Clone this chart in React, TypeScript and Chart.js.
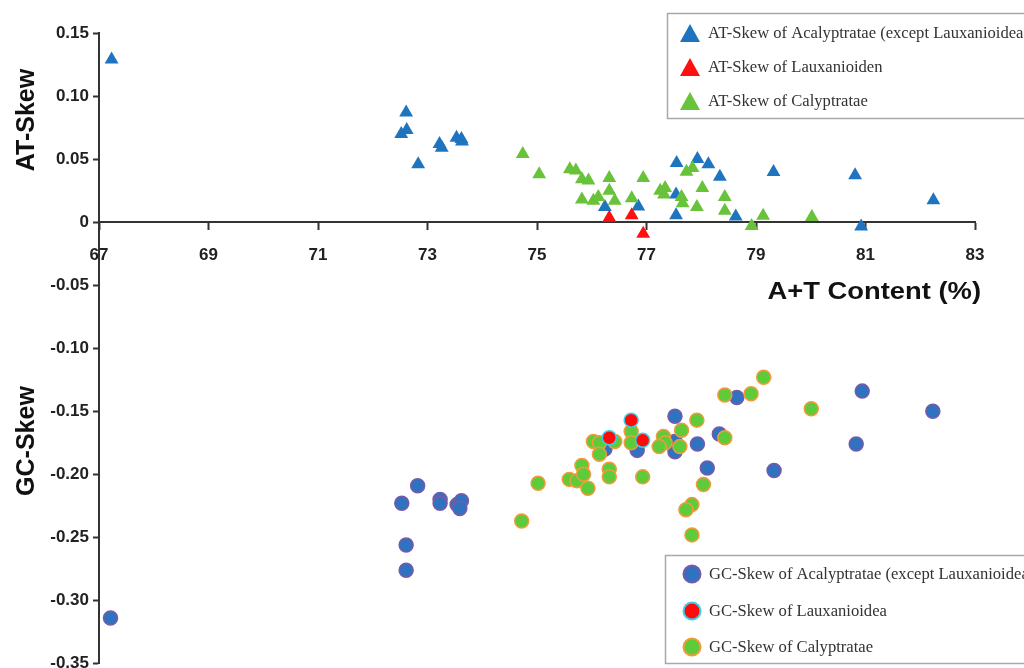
import React, { useEffect, useRef } from 'react';
import { Chart, registerables } from 'chart.js';

Chart.register(...registerables);

// ---------- data ----------
const xTickValues = [67, 69, 71, 73, 75, 77, 79, 81, 83];
const yTickValues = [0.15, 0.1, 0.05, 0, -0.05, -0.1, -0.15, -0.2, -0.25, -0.3, -0.35];

const atAcalyptratae: [number, number][] = [
  [67.23, 0.129], [72.61, 0.087], [72.62, 0.073], [72.52, 0.070], [72.83, 0.046],
  [73.22, 0.062], [73.26, 0.059], [73.53, 0.067], [73.62, 0.066], [73.63, 0.064],
  [76.24, 0.012], [76.85, 0.0125], [77.54, 0.022], [77.54, 0.0054], [77.55, 0.047],
  [77.93, 0.050], [78.13, 0.046], [78.34, 0.036], [78.63, 0.0045], [79.32, 0.0397],
  [80.81, 0.0371], [80.92, -0.0035], [82.24, 0.0173],
];
const atLauxanioidea: [number, number][] = [
  [76.32, 0.0035], [76.73, 0.0054], [76.94, -0.0092],
];
const atCalyptratae: [number, number][] = [
  [74.74, 0.054], [75.04, 0.038], [75.60, 0.042], [75.71, 0.041], [75.82, 0.034],
  [75.94, 0.033], [76.32, 0.035], [76.32, 0.025], [75.82, 0.018], [76.03, 0.017],
  [76.12, 0.020], [76.42, 0.017], [76.73, 0.019], [76.94, 0.035], [77.25, 0.025],
  [77.34, 0.027], [77.32, 0.022], [77.64, 0.020], [77.66, 0.015], [77.73, 0.040],
  [77.84, 0.043], [78.02, 0.027], [77.92, 0.012], [78.43, 0.020], [78.43, 0.009],
  [78.92, -0.003], [79.13, 0.005], [80.02, 0.004],
];

const gcAcalyptratae: [number, number][] = [
  [67.21, -0.314], [72.53, -0.223], [72.82, -0.209], [72.61, -0.256], [72.61, -0.276],
  [73.23, -0.220], [73.23, -0.223], [73.54, -0.224], [73.62, -0.221], [73.59, -0.227],
  [76.24, -0.180], [76.83, -0.181], [77.52, -0.154], [77.52, -0.174], [77.52, -0.182],
  [77.93, -0.176], [78.33, -0.168], [78.11, -0.195], [78.65, -0.139], [79.33, -0.197],
  [80.83, -0.176], [80.94, -0.134], [82.23, -0.150],
];
const gcLauxanioidea: [number, number][] = [
  [76.72, -0.157], [76.32, -0.171], [76.93, -0.173],
];
const gcCalyptratae: [number, number][] = [
  [74.72, -0.237], [75.02, -0.207], [75.59, -0.204], [75.73, -0.205], [75.82, -0.193],
  [75.85, -0.200], [75.93, -0.211], [76.03, -0.174], [76.14, -0.175], [76.14, -0.184],
  [76.42, -0.174], [76.32, -0.196], [76.32, -0.202], [76.72, -0.166], [76.72, -0.175],
  [76.93, -0.202], [77.31, -0.170], [77.34, -0.175], [77.23, -0.178], [77.64, -0.165],
  [77.61, -0.178], [77.92, -0.157], [78.04, -0.208], [77.83, -0.224], [77.72, -0.228],
  [77.83, -0.248], [78.43, -0.137], [78.43, -0.171], [78.91, -0.136], [79.14, -0.123],
  [80.01, -0.148],
];

const legendTopLabels = [
  'AT-Skew of Acalyptratae (except Lauxanioidea)',
  'AT-Skew of Lauxanioiden',
  'AT-Skew of Calyptratae',
];
const legendBottomLabels = [
  'GC-Skew of Acalyptratae (except Lauxanioidea)',
  'GC-Skew of Lauxanioidea',
  'GC-Skew of Calyptratae',
];
const yTitleTop = 'AT-Skew';
const yTitleBottom = 'GC-Skew';
const xTitle = 'A+T Content (%)';

// ---------- styles ----------
const triColors = ['#1f74c0', '#ff1010', '#68c23a'];
const circFill = ['#2f72bf', '#ff0a0a', '#5ecb3a'];
const circBorder = ['#7a5aa8', '#38d0e8', '#f39a3a'];

const toPts = (arr: [number, number][]) => arr.map(([x, y]) => ({ x, y }));

function drawTriangle(ctx: CanvasRenderingContext2D, cx: number, cy: number, w: number, h: number, color: string) {
  ctx.beginPath();
  ctx.moveTo(cx, cy - h / 2);
  ctx.lineTo(cx + w / 2, cy + h / 2);
  ctx.lineTo(cx - w / 2, cy + h / 2);
  ctx.closePath();
  ctx.fillStyle = color;
  ctx.fill();
}

const overlayPlugin = {
  id: 'overlay',
  afterDraw(chart: any) {
    const ctx: CanvasRenderingContext2D = chart.ctx;
    ctx.save();
    // y titles
    ctx.fillStyle = '#111';
    ctx.font = 'bold 25px "Liberation Sans", Arial, sans-serif';
    ctx.textAlign = 'center';
    ctx.textBaseline = 'middle';
    const rot = (t: string, x: number, y: number) => {
      ctx.save();
      ctx.translate(x, y);
      ctx.rotate(-Math.PI / 2);
      ctx.fillText(t, 0, 0);
      ctx.restore();
    };
    rot(yTitleTop, 27, 120);
    rot(yTitleBottom, 27, 441);

    // x title (stretched horizontally)
    ctx.save();
    ctx.font = 'bold 23px "Liberation Sans", Arial, sans-serif';
    ctx.textAlign = 'right';
    ctx.translate(981, 293);
    ctx.scale(1.19, 1);
    ctx.fillText(xTitle, 0, 0);
    ctx.restore();

    // legends
    const drawBox = (x: number, y: number, h: number) => {
      ctx.fillStyle = '#ffffff';
      ctx.fillRect(x, y, 1100 - x, h);
      ctx.strokeStyle = '#a8a8a8';
      ctx.lineWidth = 1.5;
      ctx.strokeRect(x + 0.5, y + 0.5, 1100 - x, h);
    };
    ctx.font = '16.6px "Liberation Serif", "Times New Roman", serif';
    ctx.textAlign = 'left';
    ctx.textBaseline = 'middle';

    drawBox(667, 13, 105);
    const topRows = [33, 67, 101];
    legendTopLabels.forEach((label, i) => {
      drawTriangle(ctx, 690, topRows[i], 20, 18, triColors[i]);
      ctx.fillStyle = '#333';
      ctx.fillText(label, 708, topRows[i] + 1);
    });

    drawBox(665, 555, 108);
    const botRows = [574, 611, 647];
    legendBottomLabels.forEach((label, i) => {
      ctx.beginPath();
      ctx.arc(692, botRows[i], 8.5, 0, Math.PI * 2);
      ctx.fillStyle = circFill[i];
      ctx.fill();
      ctx.lineWidth = 2;
      ctx.strokeStyle = circBorder[i];
      ctx.stroke();
      ctx.fillStyle = '#333';
      ctx.fillText(label, 709, botRows[i] + 1);
    });
    ctx.restore();
  },
};

export default function App() {
  const ref = useRef<HTMLCanvasElement | null>(null);

  useEffect(() => {
    document.body.style.margin = '0';
    const canvas = ref.current;
    if (!canvas) return;

    const tickFont = { family: '"Liberation Sans", Arial, sans-serif', size: 17, weight: 'bold' as const };

    const triDs = (label: string, data: [number, number][], i: number, order: number) => ({
      label,
      data: toPts(data),
      pointStyle: 'triangle' as const,
      pointRadius: 8,
      pointHoverRadius: 8,
      backgroundColor: triColors[i],
      borderColor: triColors[i],
      borderWidth: 0,
      order,
    });
    const circDs = (label: string, data: [number, number][], i: number, order: number) => ({
      label,
      data: toPts(data),
      pointStyle: 'circle' as const,
      pointRadius: 7,
      pointHoverRadius: 7,
      backgroundColor: circFill[i],
      borderColor: circBorder[i],
      borderWidth: 1.5,
      order,
    });

    const chart = new Chart(canvas, {
      type: 'scatter',
      data: {
        datasets: [
          triDs(legendTopLabels[0], atAcalyptratae, 0, 2),
          triDs(legendTopLabels[1], atLauxanioidea, 1, 0),
          triDs(legendTopLabels[2], atCalyptratae, 2, 1),
          circDs(legendBottomLabels[0], gcAcalyptratae, 0, 2),
          circDs(legendBottomLabels[1], gcLauxanioidea, 1, 0),
          circDs(legendBottomLabels[2], gcCalyptratae, 2, 1),
        ],
      },
      options: {
        responsive: false,
        animation: false,
        layout: { padding: { left: 0, top: 33, right: 49, bottom: 6 } },
        plugins: {
          legend: { display: false },
          tooltip: { enabled: false },
        },
        scales: {
          x: {
            type: 'linear',
            position: { y: 0 } as any,
            min: 67,
            max: 83,
            afterBuildTicks: (scale: any) => {
              scale.ticks = xTickValues.map((v) => ({ value: v }));
            },
            afterFit: (scale: any) => {
              scale.paddingTop = 0;
              scale.paddingBottom = 0;
            },
            ticks: {
              stepSize: 2,
              padding: 16,
              color: '#222',
              font: tickFont,
              maxRotation: 0,
              autoSkip: false,
              callback: (v: any) => String(v),
            },
            grid: {
              display: true,
              drawOnChartArea: false,
              drawTicks: true,
              tickLength: 7,
              tickWidth: 2,
              color: '#333',
            },
            border: { display: true, color: '#333', width: 2 },
          },
          y: {
            type: 'linear',
            position: 'left',
            min: -0.35,
            max: 0.15,
            afterFit: (scale: any) => {
              scale.width = 99;
              scale.paddingTop = 0;
              scale.paddingBottom = 0;
            },
            afterBuildTicks: (scale: any) => {
              scale.ticks = yTickValues.map((v) => ({ value: v }));
            },
            ticks: {
              stepSize: 0.05,
              padding: 4,
              color: '#222',
              font: tickFont,
              autoSkip: false,
              callback: (v: any) => {
                const n = Number(v);
                return Math.abs(n) < 1e-9 ? '0' : n.toFixed(2);
              },
            },
            grid: {
              display: true,
              drawOnChartArea: false,
              drawTicks: true,
              tickLength: 6,
              tickWidth: 2,
              color: '#333',
            },
            border: { display: true, color: '#333', width: 2 },
          },
        },
      },
      plugins: [overlayPlugin],
    });

    return () => chart.destroy();
  }, []);

  return (
    <div style={{ width: 1024, height: 668, overflow: 'hidden', background: '#fff' }}>
      <canvas ref={ref} width={1024} height={672} style={{ display: 'block' }} />
    </div>
  );
}
